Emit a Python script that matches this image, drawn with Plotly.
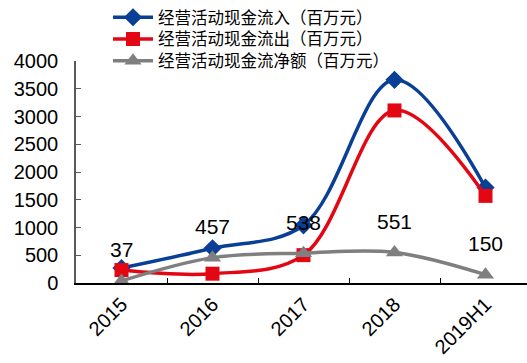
import plotly.graph_objects as go

# Operating cash flow by period (millions of yuan)
periods = ["2015", "2016", "2017", "2018", "2019H1"]
cash_in = [270, 625, 1040, 3660, 1720]
cash_out = [233, 168, 502, 3109, 1570]
cash_net = [37, 457, 538, 551, 150]

names = ["经营活动现金流入（百万元）", "经营活动现金流出（百万元）", "经营活动现金流净额（百万元）"]
colors = ["#0A3F96", "#E30613", "#7F7F7F"]
symbols = ["diamond", "square", "triangle-up"]
sizes = [14, 14, 15]
legends = ["legend", "legend2", "legend3"]

fig = go.Figure()
for vals, name, color, sym, sz, lg in zip([cash_in, cash_out, cash_net], names, colors, symbols, sizes, legends):
    fig.add_trace(go.Scatter(
        x=periods, y=vals, name=name, mode="lines+markers", legend=lg,
        line=dict(color=color, width=3.5, shape="spline", smoothing=1.0),
        marker=dict(symbol=sym, size=sz, color=color),
    ))

# Net-flow value labels above the grey markers
for i, v in enumerate(cash_net):
    fig.add_annotation(x=i, y=v, xref="x", yref="y", text=str(v), showarrow=False, yshift=31,
                       font=dict(size=21, color="#000000", family="Liberation Sans, Arial"))

legend_font = dict(size=16.5, family="Liberation Sans, Noto Sans CJK SC", color="#000000")
legend_base = dict(xanchor="left", yanchor="middle", font=legend_font,
                   bgcolor="rgba(0,0,0,0)", itemwidth=40)
# One legend per series so the rows sit close together
legend_rows_px = [15, 37, 59]
plot_top, plot_bottom, plot_left, plot_w = 59, 283, 76, 451


def legend_at(y_px):
    return dict(legend_base, x=(108 - plot_left) / plot_w,
                y=(plot_bottom - y_px) / (plot_bottom - plot_top))


fig.update_layout(
    width=527, height=363,
    margin=dict(l=76, r=0, t=59, b=80),
    paper_bgcolor="white", plot_bgcolor="white",
    font=dict(family="Liberation Sans, Arial, Noto Sans CJK SC", color="#000000"),
    showlegend=True,
    legend=legend_at(legend_rows_px[0]),
    legend2=legend_at(legend_rows_px[1]),
    legend3=legend_at(legend_rows_px[2]),
    xaxis=dict(type="category", range=[-0.5, 4.456], showline=True, linecolor="#000000", linewidth=1.5,
               ticks="inside", tickson="boundaries", ticklen=5, tickcolor="#000000",
               tickangle=-45, tickfont=dict(size=20), showgrid=False, zeroline=False),
    yaxis=dict(range=[0, 4000], dtick=500, showline=True, linecolor="#595959", linewidth=1.5,
               ticks="inside", ticklen=5, tickcolor="#595959", tickfont=dict(size=20),
               ticklabelstandoff=12, showgrid=False, zeroline=False),
)

fig.write_html("out.html")
